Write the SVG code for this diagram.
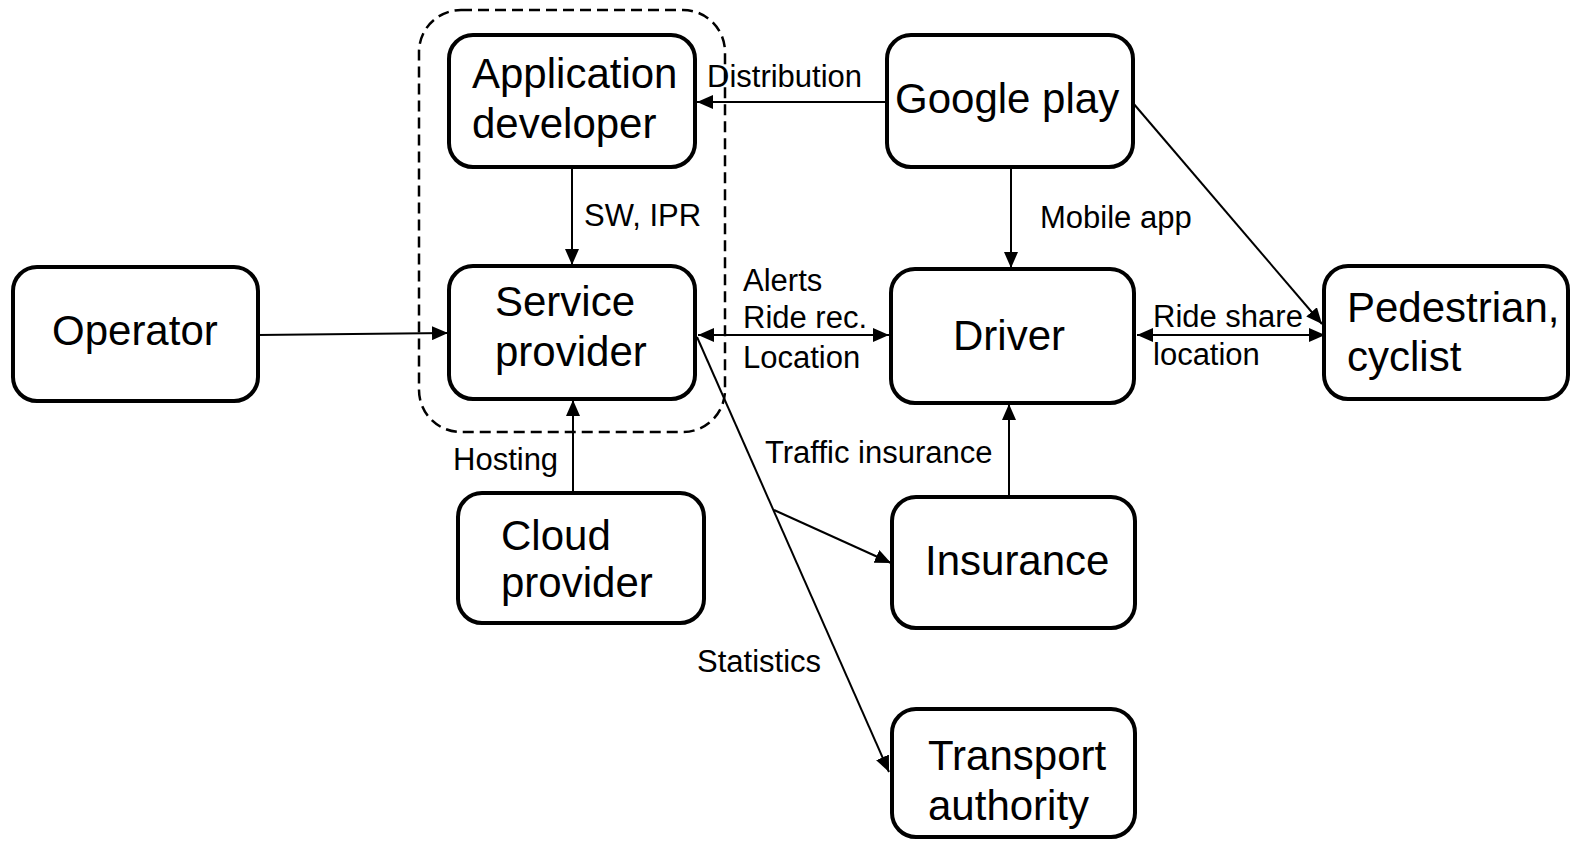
<svg xmlns="http://www.w3.org/2000/svg" width="1574" height="842" viewBox="0 0 1574 842">
<style>
.box{fill:#fff;stroke:#000;stroke-width:4}
.big{font-family:"Liberation Sans",Arial,sans-serif;font-size:42px;fill:#000}
.small{font-family:"Liberation Sans",Arial,sans-serif;font-size:31px;fill:#000}
.edge{fill:none;stroke:#000;stroke-width:2}
</style>
<defs>
<marker id="ah" markerWidth="16" markerHeight="14" refX="16" refY="7" orient="auto-start-reverse" markerUnits="userSpaceOnUse">
<path d="M0,0 L16,7 L0,14 Z" fill="#000"/>
</marker>
</defs>
<rect id="group" x="419" y="10" width="306" height="422" rx="42" fill="none" stroke="#000" stroke-width="2.5" stroke-dasharray="11,6"/>
<g id="connectors">
<line class="edge" x1="887" y1="102" x2="697" y2="102" marker-end="url(#ah)"/>
<line class="edge" x1="572" y1="167" x2="572" y2="265" marker-end="url(#ah)"/>
<line class="edge" x1="258" y1="335" x2="448" y2="333" marker-end="url(#ah)"/>
<line class="edge" x1="573" y1="493" x2="573" y2="400" marker-end="url(#ah)"/>
<line class="edge" x1="698" y1="335" x2="889" y2="335" marker-start="url(#ah)" marker-end="url(#ah)"/>
<line class="edge" x1="1011" y1="167" x2="1011" y2="268" marker-end="url(#ah)"/>
<line class="edge" x1="1009" y1="497" x2="1009" y2="404" marker-end="url(#ah)"/>
<line class="edge" x1="1137" y1="335" x2="1325" y2="335" marker-start="url(#ah)" marker-end="url(#ah)"/>
<line class="edge" x1="1133" y1="103" x2="1322" y2="324" marker-end="url(#ah)"/>
<line class="edge" x1="697" y1="337" x2="889" y2="772" marker-end="url(#ah)"/>
<line class="edge" x1="774" y1="510" x2="891" y2="563" marker-end="url(#ah)"/>
<text class="small" x="707" y="87">Distribution</text>
<text class="small" x="584" y="226">SW, IPR</text>
<text class="small" x="1040" y="228">Mobile app</text>
<text class="small" x="743" y="291">Alerts</text>
<text class="small" x="743" y="328">Ride rec.</text>
<text class="small" x="743" y="368">Location</text>
<text class="small" x="1153" y="327">Ride share</text>
<text class="small" x="1153" y="365">location</text>
<text class="small" x="453" y="470">Hosting</text>
<text class="small" x="765" y="463">Traffic insurance</text>
<text class="small" x="697" y="672">Statistics</text>
</g>
<g id="appdev"><rect class="box" x="449" y="35" width="246" height="132" rx="24"/><text class="big" x="472" y="88">Application</text><text class="big" x="472" y="138">developer</text></g>
<g id="service"><rect class="box" x="449" y="266" width="246" height="133" rx="24"/><text class="big" x="495" y="316">Service</text><text class="big" x="495" y="366">provider</text></g>
<g id="operator"><rect class="box" x="13" y="267" width="245" height="134" rx="24"/><text class="big" x="52" y="345">Operator</text></g>
<g id="cloud"><rect class="box" x="458" y="493" width="246" height="130" rx="24"/><text class="big" x="501" y="550">Cloud</text><text class="big" x="501" y="597">provider</text></g>
<g id="google"><rect class="box" x="887" y="35" width="246" height="132" rx="24"/><text class="big" x="895" y="113">Google play</text></g>
<g id="driver"><rect class="box" x="891" y="269" width="243" height="134" rx="24"/><text class="big" x="953" y="350">Driver</text></g>
<g id="pedestrian"><rect class="box" x="1324" y="266" width="244" height="133" rx="24"/><text class="big" x="1347" y="322">Pedestrian,</text><text class="big" x="1347" y="371">cyclist</text></g>
<g id="insurance"><rect class="box" x="892" y="497" width="243" height="131" rx="24"/><text class="big" x="925" y="575">Insurance</text></g>
<g id="transport"><rect class="box" x="892" y="709" width="243" height="128" rx="24"/><text class="big" x="928" y="770">Transport</text><text class="big" x="928" y="820">authority</text></g>
</svg>
